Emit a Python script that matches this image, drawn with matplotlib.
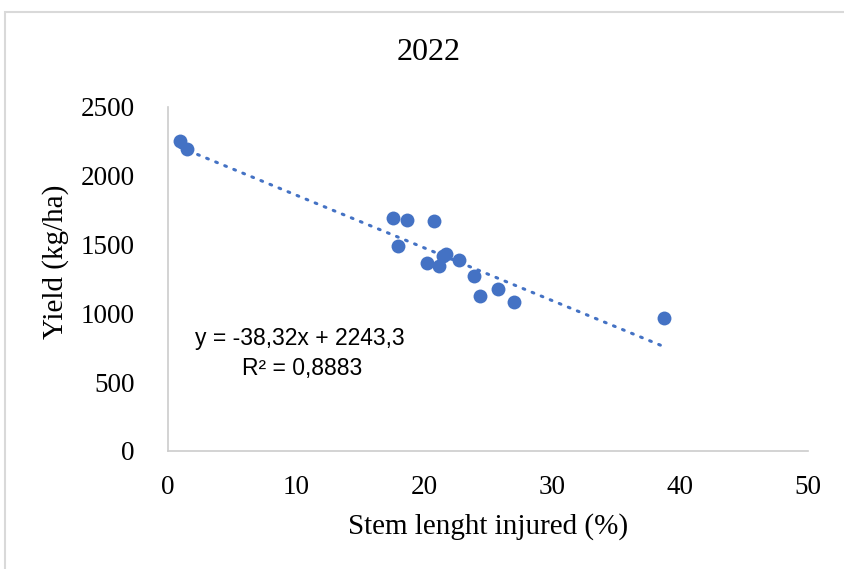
import matplotlib
matplotlib.use('Agg')
import matplotlib.pyplot as plt
from matplotlib.patches import Rectangle
import numpy as np

# Stem length injured (%) and yield (kg/ha)
stem_injured = [0.9, 1.5, 17.6, 18.7, 20.8, 18.0, 21.7, 21.5, 20.2, 21.2,
                22.7, 23.9, 25.8, 24.4, 27.0, 38.75]
yield_kg = [2255, 2195, 1690, 1680, 1675, 1490, 1435, 1420, 1365, 1345,
            1385, 1270, 1175, 1130, 1080, 965]

# linear trendline as printed on the chart
slope = -38.32
intercept = 2243.3
r2 = 0.8883

blue = '#4472C4'
serif = ['Liberation Serif', 'DejaVu Serif']
sans = ['Liberation Sans', 'DejaVu Sans']

fig = plt.figure(figsize=(8.44, 5.69), dpi=100)
ax = fig.add_axes([168 / 844, 1 - 451 / 569, 640 / 844, 344 / 569])

# light outer frame of the chart area
fig.patches.append(Rectangle((5 / 844, -0.05), 1.0, 1 - 12 / 569 + 0.05,
                             transform=fig.transFigure, fill=False,
                             edgecolor='#D9D9D9', linewidth=1.5))

ax.scatter(stem_injured, yield_kg, s=100, color=blue, zorder=3, linewidths=0)

xs = np.array([min(stem_injured), max(stem_injured)])
ax.plot(xs, slope * xs + intercept, color=blue, linewidth=2.2,
        linestyle=(0, (0.6, 2.6)), dash_capstyle='round', zorder=2)

ax.set_xlim(0, 50)
ax.set_ylim(0, 2500)
ax.set_xticks([0, 10, 20, 30, 40, 50])
ax.set_yticks([0, 500, 1000, 1500, 2000, 2500])
for lbl in ax.get_xticklabels() + ax.get_yticklabels():
    lbl.set_family(serif)
    lbl.set_fontsize(19.5)
ax.tick_params(axis='y', length=0, pad=24, colors='black')
ax.tick_params(axis='x', length=0, pad=17, colors='black')

for side in ['top', 'right']:
    ax.spines[side].set_visible(False)
for side in ['left', 'bottom']:
    ax.spines[side].set_color('#CCCCCC')
    ax.spines[side].set_linewidth(1.2)

fig.text(429 / 844, 1 - 52 / 569, '2022', family=serif, fontsize=23,
         ha='center', va='center')
fig.text(488 / 844, 1 - 527 / 569, 'Stem lenght injured (%)', family=serif,
         fontsize=21, ha='center', va='center')
fig.text(56 / 844, 1 - 262 / 569, 'Yield (kg/ha)', family=serif, fontsize=21,
         ha='center', va='center', rotation=90)

eq = f'y = {slope:.2f}x + {intercept:.1f}'.replace('.', ',')
rr = f'R² = {r2:.4f}'.replace('.', ',')
fig.text(300 / 844, 1 - 339 / 569, eq, family=sans, fontsize=16.5,
         ha='center', va='center')
fig.text(302 / 844, 1 - 368 / 569, rr, family=sans, fontsize=16.5,
         ha='center', va='center')

fig.savefig('out.png', dpi=100)
